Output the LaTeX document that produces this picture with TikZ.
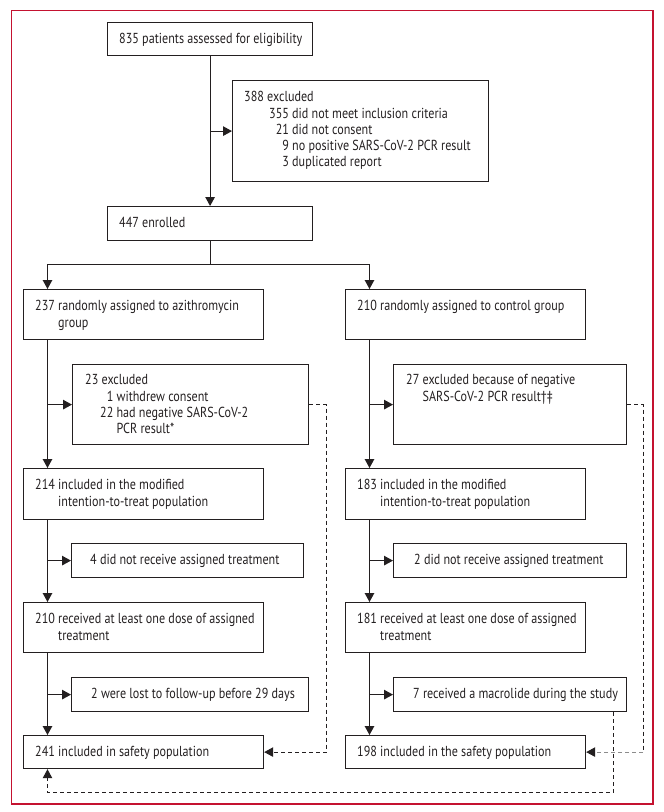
\documentclass[tikz,border=0pt]{standalone}
\usepackage{fontspec}
\setmainfont{PT Sans}[FakeStretch=0.835]
\usetikzlibrary{arrows.meta}
\definecolor{framecol}{RGB}{196,18,48}
\definecolor{ink}{RGB}{35,31,32}
\newcommand{\fs}{\fontsize{14.5}{16.3}\selectfont}
\newcommand{\fstrut}{\rule{0pt}{12pt}}
\begin{document}
\begin{tikzpicture}[x=1pt,y=-1pt,
  box/.style 2 args={draw=ink, line width=1.2pt, inner sep=0pt, anchor=north west, minimum width=#1, minimum height=#2},
  txt/.style={inner sep=0pt, anchor=north west, align=left, font=\fs, text=ink},
  ln/.style={draw=ink, line width=1.2pt},
  arr/.style={ln, -{Triangle[length=9pt,width=9.5pt]}},
  dsh/.style={draw=ink, line width=1pt, dash pattern=on 4pt off 3pt},
  darr/.style={dsh, -{Triangle[length=9pt,width=9.5pt]}}]
\useasboundingbox (0,0) rectangle (664,812);
\draw[framecol, line width=1.3pt] (11.7,10.7) rectangle (653,804);

% boxes
\node[box={205}{33}]  (top)   at (107,22)  {};
\node[box={256}{101}] (ex388) at (232,80)  {};
\node[box={205}{34}]  (enr)   at (107,206) {};
\node[box={240}{50}]  (r1)    at (23,289)  {};
\node[box={240}{50}]  (c1)    at (345,289) {};
\node[box={236}{80}]  (exL)   at (72,364)  {};
\node[box={233}{80}]  (exR)   at (393,364) {};
\node[box={240}{51}]  (m1)    at (23,468)  {};
\node[box={240}{51}]  (m2)    at (345,468) {};
\node[box={232}{34}]  (nL)    at (71,543)  {};
\node[box={233}{34}]  (nR)    at (393,543) {};
\node[box={240}{50}]  (d1)    at (23,602)  {};
\node[box={240}{50}]  (d2)    at (345,602) {};
\node[box={237}{34}]  (lL)    at (71,677)  {};
\node[box={233}{34}]  (lR)    at (393,677) {};
\node[box={240}{33}]  (s1)    at (23,735)  {};
\node[box={240}{33}]  (s2)    at (345,735) {};

% texts (first baseline = y + 12)
\node[txt] (t-top) at (119,31.5) {\fstrut 835 patients assessed for eligibility};
\node[txt] (t-ex388) at (244,89.5) {\fstrut 388 excluded\\
\hspace*{25pt}355 did not meet inclusion criteria\\
\hspace*{25pt}\hphantom{3}21 did not consent\\
\hspace*{25pt}\hphantom{35}9 no positive SARS-CoV-2 PCR result\\
\hspace*{25pt}\hphantom{35}3 duplicated report};
\node[txt] (t-enr) at (119,215.5) {\fstrut 447 enrolled};
\node[txt] (t-r1) at (35,298.5) {\fstrut 237 randomly assigned to azithromycin\\\hphantom{237\ }group};
\node[txt] (t-c1) at (357,298.5) {\fstrut 210 randomly assigned to control group};
\node[txt] (t-exL) at (85,372.5) {\fstrut 23 excluded\\
\hspace*{15pt}\hphantom{2}1 withdrew consent\\
\hspace*{15pt}22 had negative SARS-CoV-2\\
\hspace*{15pt}\hphantom{22\ }PCR result*};
\node[txt] (t-exR) at (406,372.5) {\fstrut 27 excluded because of negative\\\hphantom{27\ }SARS-CoV-2 PCR result†‡};
\node[txt] (t-m1) at (35,477.5) {\fstrut 214 included in the modified\\\hphantom{214\ }intention-to-treat population};
\node[txt] (t-m2) at (357,477.5) {\fstrut 183 included in the modified\\\hphantom{183\ }intention-to-treat population};
\node[txt] (t-nL) at (90,552.5) {\fstrut 4 did not receive assigned treatment};
\node[txt] (t-nR) at (414,552.5) {\fstrut 2 did not receive assigned treatment};
\node[txt] (t-d1) at (35,611.5) {\fstrut 210 received at least one dose of assigned\\\hphantom{210\ }treatment};
\node[txt] (t-d2) at (357,611.5) {\fstrut 181 received at least one dose of assigned\\\hphantom{181\ }treatment};
\node[txt] (t-lL) at (91,686.5) {\fstrut 2 were lost to follow-up before 29 days};
\node[txt] (t-lR) at (413,686.5) {\fstrut 7 received a macrolide during the study};
\node[txt] (t-s1) at (35,744.5) {\fstrut 241 included in safety population};
\node[txt] (t-s2) at (357,744.5) {\fstrut 198 included in the safety population};

% solid connectors
\coordinate (jl) at (47.5,264.5);
\coordinate (jr) at (369.5,264.5);
\coordinate (bl) at (47.5,792.5);
\draw[arr] (top.south) -- (enr.north);
\draw[arr] (top.south |- ex388.west) -- (ex388.west);
\draw[arr] (enr.south) |- (jl) -- (jl |- r1.north);
\draw[arr] (enr.south |- jr) -- (jr) -- (jr |- c1.north);

\draw[arr] (jl |- r1.south) -- (jl |- m1.north);
\draw[arr] (jl |- exL.west) -- (exL.west);
\draw[arr] (jl |- m1.south) -- (jl |- d1.north);
\draw[arr] (jl |- nL.west) -- (nL.west);
\draw[arr] (jl |- d1.south) -- (jl |- s1.north);
\draw[arr] (jl |- lL.west) -- (lL.west);

\draw[arr] (jr |- c1.south) -- (jr |- m2.north);
\draw[arr] (jr |- exR.west) -- (exR.west);
\draw[arr] (jr |- m2.south) -- (jr |- d2.north);
\draw[arr] (jr |- nR.west) -- (nR.west);
\draw[arr] (jr |- d2.south) -- (jr |- s2.north);
\draw[arr] (jr |- lR.west) -- (lR.west);

% dashed connectors
\draw[darr] (exL.east) -- ++(17,0) |- (s1.east);
\draw[dsh] (exR.east) -- ++(16,0) coordinate (rc) -- (rc |- s2.east);
\draw[darr, draw=black!45, -{Triangle[length=9pt,width=9.5pt,color=ink]}] (rc |- s2.east) -- (s2.east);
\draw[darr] ([xshift=103.5pt]lR.south) |- (bl) -- (jl |- s1.south);
\end{tikzpicture}
\end{document}
